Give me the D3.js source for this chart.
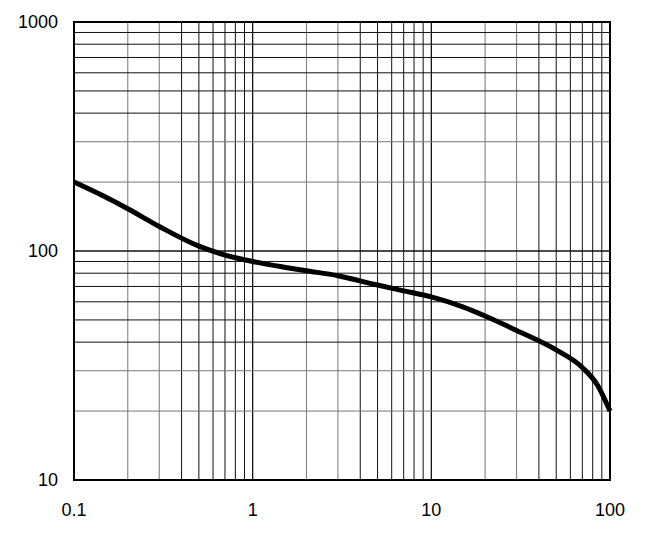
<!DOCTYPE html><html><head><script src="https://cdn.jsdelivr.net/npm/d3@7"></script>
<style>body{margin:0;background:#fff}</style></head><body><svg id="c" width="660" height="538"></svg>
<script>
const curveX=[0.1,0.15,0.2,0.3,0.5,0.7,1,1.5,2,3,5,7,10,15,20,30,50,70,85,100];
const curveY=[200,172,153,128,105,96,90,85,82,78,71,67,63,57,52,45,37,31,26,20];
const xTicks=[0.1,1,10,100], yTicks=[10,100,1000];
const svg=d3.select("#c");
const x=d3.scaleLog().domain([0.1,100]).range([74,610]);
const y=d3.scaleLog().domain([10,1000]).range([480,22]);
const g=svg.append("g");
const minors=[];for(const d of [0.1,1,10])for(let k=1;k<=10;k++)minors.push(d*k);
g.selectAll(".vx").data(minors).join("line").attr("x1",d=>x(d)).attr("x2",d=>x(d)).attr("y1",22).attr("y2",480)
 .attr("stroke",d=>[2,3].includes(Math.round(d/Math.pow(10,Math.floor(Math.log10(d)+1e-9))))?"#777":"#111").attr("stroke-width",1);
const ym=[];for(const d of [10,100])for(let k=1;k<=10;k++)ym.push(d*k);
g.selectAll(".hy").data(ym).join("line").attr("y1",d=>y(d)).attr("y2",d=>y(d)).attr("x1",74).attr("x2",610)
 .attr("stroke",d=>[2,3].includes(Math.round(d/Math.pow(10,Math.floor(Math.log10(d)+1e-9))))?"#777":"#111").attr("stroke-width",1);
g.append("rect").attr("x",74).attr("y",22).attr("width",536).attr("height",458).attr("fill","none").attr("stroke","#000").attr("stroke-width",2);
svg.append("path").datum(curveX.map((d,i)=>[d,curveY[i]])).attr("d",d3.line().x(d=>x(d[0])).y(d=>y(d[1])).curve(d3.curveMonotoneX))
 .attr("fill","none").attr("stroke","#000").attr("stroke-width",5);
svg.selectAll(".xt").data(xTicks).join("text").attr("x",d=>x(d)).attr("y",516).attr("text-anchor","middle")
 .attr("font-family","Liberation Sans Narrow, Liberation Sans, Arial").attr("font-size",18).text(d=>d);
svg.selectAll(".yt").data(yTicks).join("text").attr("x",58).attr("y",d=>y(d)+6).attr("text-anchor","end")
 .attr("font-family","Liberation Sans Narrow, Liberation Sans, Arial").attr("font-size",18).text(d=>d);
</script></body></html>
